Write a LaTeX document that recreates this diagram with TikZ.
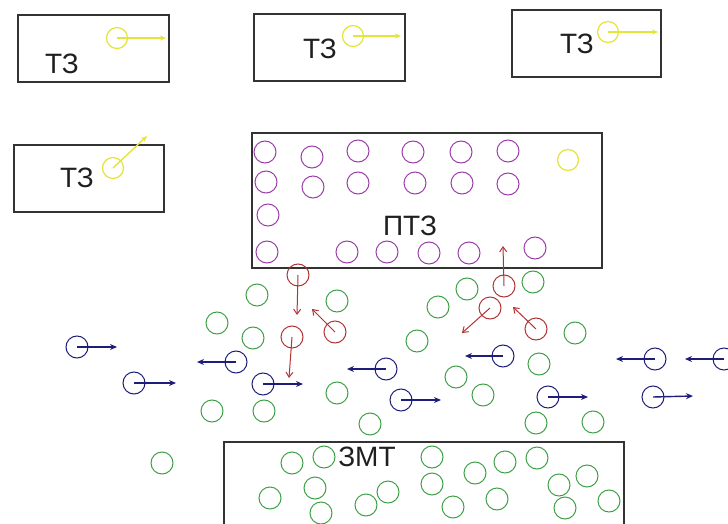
\documentclass[tikz,border=0pt]{standalone}
\usepackage{fontspec}
\setmainfont{Liberation Sans}
\usetikzlibrary{arrows.meta}

\definecolor{zoneline}{HTML}{333333}
\definecolor{hotyellow}{HTML}{E4E43A}
\definecolor{boundmag}{HTML}{9A3FA8}
\definecolor{freegreen}{HTML}{3FA047}
\definecolor{movblue}{HTML}{1E1E7A}
\definecolor{jumpred}{HTML}{B03434}

\tikzset{
  zone/.style={draw=zoneline, line width=1.3pt},
  lbl/.style={font=\fontsize{28}{30}\selectfont, text=black!88, inner sep=0pt},
  ball/.style={circle, draw, line width=1pt, minimum size=22pt, inner sep=0pt},
  yball/.style={ball, draw=hotyellow, minimum size=21pt, line width=1.2pt},
  mball/.style={ball, draw=boundmag},
  gball/.style={ball, draw=freegreen},
  bball/.style={ball, draw=movblue},
  rball/.style={ball, draw=jumpred},
  yarrow/.style={draw=hotyellow, line width=1.4pt, -{Stealth[length=6pt,width=5pt]}},
  barrow/.style={draw=movblue, line width=1.4pt, -{Stealth[length=7pt,width=6pt]}},
  rarrow/.style={draw=jumpred, line width=1pt, -{Straight Barb[length=5pt,width=7pt]}},
}

\begin{document}
\begin{tikzpicture}[x=1pt, y=-1pt]
  \clip (0,0) rectangle (728,524);
  \fill[white] (0,0) rectangle (728,524);

  % four small zones, each with one particle leaving
  \draw[zone] (18,15) rectangle (169,82);
  \node[lbl] (t1) at (62,64) {ТЗ};
  \node[yball] (y1) at (117,38) {};
  \coordinate (y1e) at (166,38);
  \draw[yarrow] (y1.center) -- (y1e);

  \draw[zone] (254,14) rectangle (405,81);
  \node[lbl] (t2) at (320,49) {ТЗ};
  \node[yball] (y2) at (353,36) {};
  \coordinate (y2e) at (401,36);
  \draw[yarrow] (y2.center) -- (y2e);

  \draw[zone] (512,10) rectangle (661,77);
  \node[lbl] (t3) at (577,44) {ТЗ};
  \node[yball] (y3) at (608,32) {};
  \coordinate (y3e) at (658,32);
  \draw[yarrow] (y3.center) -- (y3e);

  \draw[zone] (14,145) rectangle (164,212);
  \node[lbl] (t4) at (77,178) {ТЗ};
  \node[yball] (y4) at (113,168) {};
  \coordinate (y4e) at (147,136);
  \draw[yarrow] (y4.center) -- (y4e);

  % trapping zone with bound particles
  \draw[zone] (252,133) rectangle (602,268);
  \node[lbl] (ptz) at (410,226) {ПТЗ};
  \foreach \px/\py [count=\i] in {
      265/152, 312/157, 358/151, 413/152, 461/152, 508/151,
      266/182, 313/187, 358/183, 415/183, 462/183, 508/184,
      268/215,
      267/252, 347/252, 387/252, 429/253, 469/253, 535/248}
    \node[mball] (m\i) at (\px,\py) {};
  \node[yball] (y5) at (568,160) {};

  % lower zone
  \draw[zone] (224,530) -- (224,442) -- (624,442) -- (624,530);
  \node[lbl] (zmt) at (367,457) {ЗМТ};

  % free particles
  \foreach \px/\py [count=\i] in {
      257/295, 217/323, 253/338, 337/301, 337/393, 212/411, 264/411,
      162/463, 370/424, 467/289, 533/282, 438/307, 417/341, 575/333,
      539/364, 456/377, 483/395, 536/423, 593/422,
      292/463, 324/457, 315/488, 270/498, 321/513, 366/505, 388/492,
      432/457, 432/484, 475/473, 505/462, 537/458, 453/507, 497/499,
      559/485, 587/476, 565/508, 609/501}
    \node[gball] (g\i) at (\px,\py) {};

  % moving particles
  \foreach \px/\py/\ex/\ey [count=\i] in {
      77/347/117/347, 134/383/176/383, 236/362/197/362,
      263/384/303/384, 386/369/347/369, 503/356/465/356,
      401/400/441/400, 548/397/588/397, 655/359/616/359,
      724/359/685/359, 653/397/693/396} {
    \node[bball] (b\i) at (\px,\py) {};
    \coordinate (b\i e) at (\ex,\ey);
    \draw[barrow] (b\i.center) -- (b\i e);
  }

  % particles being captured or released
  \foreach \px/\py/\ex/\ey [count=\i] in {
      298/275/297/315, 292/337/289/378, 335/332/312/309,
      504/286/503/246, 490/308/462/333, 536/329/513/307} {
    \node[rball] (r\i) at (\px,\py) {};
    \coordinate (r\i e) at (\ex,\ey);
    \draw[rarrow] (r\i.center) -- (r\i e);
  }
\end{tikzpicture}
\end{document}
